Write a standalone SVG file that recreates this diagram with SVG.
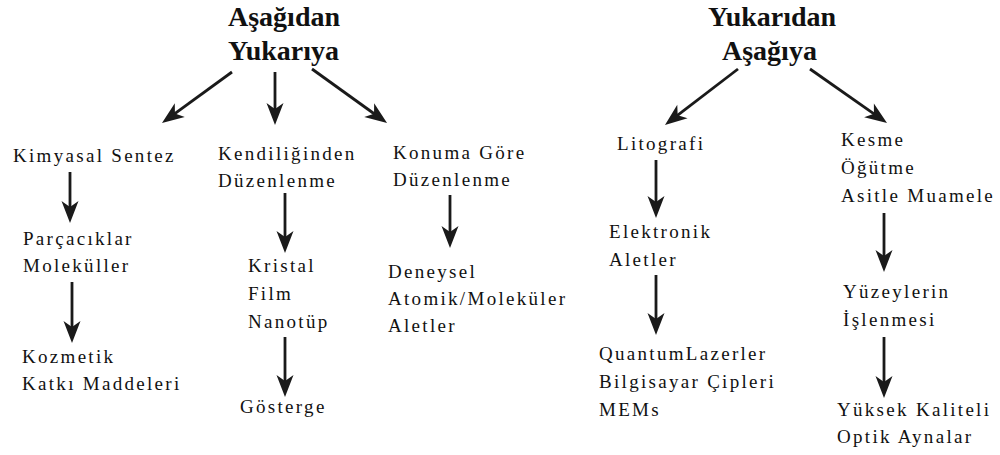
<svg xmlns="http://www.w3.org/2000/svg" width="1000" height="455" viewBox="0 0 1000 455">
<style>
.t{font-family:"Liberation Serif","Times New Roman",serif;font-size:19px;font-weight:normal;letter-spacing:2.3px;fill:#111}
.h{font-family:"Liberation Serif","Times New Roman",serif;font-size:28px;font-weight:bold;fill:#111}
.c line{stroke:#1a1a1a;stroke-width:2.8;marker-end:url(#ah)}
</style>
<defs>
<marker id="ah" markerUnits="userSpaceOnUse" viewBox="-24 -10 26 20" markerWidth="26" markerHeight="20" refX="-12" refY="0" orient="auto">
<path d="M0,0 L-22,-8.5 L-16,0 L-22,8.5 Z" fill="#1a1a1a"/>
</marker>
</defs>
<rect width="1000" height="455" fill="#fff"/>
<g id="bottom-up"><text class="h" x="228" y="26">Aşağıdan</text><text class="h" x="228" y="60">Yukarıya</text></g>
<g id="top-down"><text class="h" x="708" y="26">Yukarıdan</text><text class="h" x="722" y="60">Aşağıya</text></g>
<g id="kimyasal"><text class="t" x="13" y="162">Kimyasal Sentez</text></g>
<g id="parcaciklar"><text class="t" x="23" y="245">Parçacıklar</text><text class="t" x="23" y="272">Moleküller</text></g>
<g id="kozmetik"><text class="t" x="22" y="363">Kozmetik</text><text class="t" x="22" y="390">Katkı Maddeleri</text></g>
<g id="kendiliginden"><text class="t" x="218" y="160">Kendiliğinden</text><text class="t" x="218" y="187">Düzenlenme</text></g>
<g id="kristal"><text class="t" x="248" y="272">Kristal</text><text class="t" x="248" y="300">Film</text><text class="t" x="248" y="328">Nanotüp</text></g>
<g id="gosterge"><text class="t" x="240" y="413">Gösterge</text></g>
<g id="konuma"><text class="t" x="393" y="159">Konuma Göre</text><text class="t" x="393" y="186">Düzenlenme</text></g>
<g id="deneysel"><text class="t" x="388" y="278">Deneysel</text><text class="t" x="388" y="305">Atomik/Moleküler</text><text class="t" x="388" y="332">Aletler</text></g>
<g id="litografi"><text class="t" x="617" y="150">Litografi</text></g>
<g id="elektronik"><text class="t" x="609" y="238">Elektronik</text><text class="t" x="609" y="266">Aletler</text></g>
<g id="quantum"><text class="t" x="599" y="360">QuantumLazerler</text><text class="t" x="599" y="388">Bilgisayar Çipleri</text><text class="t" x="599" y="416">MEMs</text></g>
<g id="kesme"><text class="t" x="841" y="146">Kesme</text><text class="t" x="841" y="174">Öğütme</text><text class="t" x="841" y="202">Asitle Muamele</text></g>
<g id="yuzeylerin"><text class="t" x="843" y="298">Yüzeylerin</text><text class="t" x="843" y="326">İşlenmesi</text></g>
<g id="yuksek"><text class="t" x="837" y="416">Yüksek Kaliteli</text><text class="t" x="837" y="443">Optik Aynalar</text></g>
<g id="connectors" class="c">
<line x1="232" y1="72" x2="171.7" y2="115.9"/>
<line x1="275" y1="72" x2="275" y2="113"/>
<line x1="312" y1="69" x2="377.3" y2="116"/>
<line x1="738" y1="69" x2="674.5" y2="117.7"/>
<line x1="810" y1="69" x2="877.2" y2="116.1"/>
<line x1="70" y1="172" x2="70" y2="211"/>
<line x1="72" y1="282" x2="72" y2="331"/>
<line x1="285" y1="193" x2="285" y2="241"/>
<line x1="285" y1="337" x2="285" y2="385"/>
<line x1="450" y1="195" x2="450" y2="236"/>
<line x1="656" y1="160" x2="656" y2="206"/>
<line x1="656" y1="275" x2="656" y2="323"/>
<line x1="884" y1="213" x2="884" y2="260"/>
<line x1="884" y1="337" x2="884" y2="386"/>
</g>
</svg>
